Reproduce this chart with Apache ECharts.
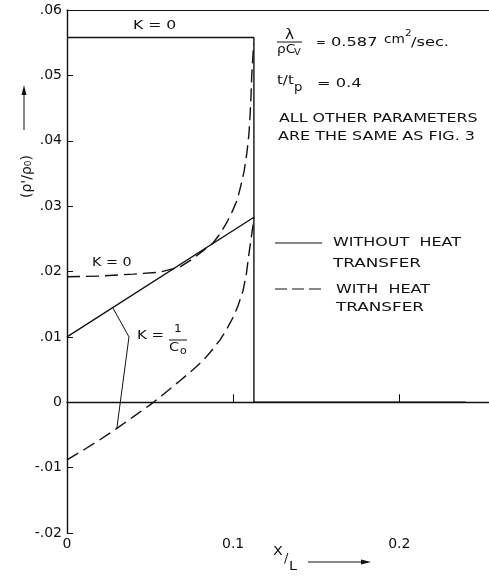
<!DOCTYPE html>
<html><head><meta charset="utf-8">
<script src="https://cdn.jsdelivr.net/npm/echarts@6/dist/echarts.min.js"></script>
<style>html,body{margin:0;padding:0;background:#fff}#c{width:489px;height:577px}</style>
</head><body><div id="c"></div>
<script>
// ---- data ----
const xTicks = [0, 0.1, 0.2];
const yTicks = [-0.02, -0.01, 0, 0.01, 0.02, 0.03, 0.04, 0.05, 0.06];
const yTickLabels = ['-.02', '-.01', '0', '.01', '.02', '.03', '.04', '.05', '.06'];
// without heat transfer, K = 1/C0 (solid)
const solidK1X = [0, 0.1125, 0.1125, 0.240];
const solidK1Y = [0.010, 0.0283, 0.0, 0.0];
// without heat transfer, K = 0 (solid)
const solidK0X = [0, 0.1125, 0.1125];
const solidK0Y = [0.0558, 0.0558, 0.0283];
// with heat transfer, K = 0 (dashed)
const dashK0X = [0, 0.02, 0.04, 0.056, 0.068, 0.076, 0.082, 0.088, 0.0925, 0.0964, 0.0995, 0.1024, 0.1045, 0.1065, 0.1082, 0.1095, 0.1102, 0.1108, 0.1112, 0.1118, 0.1123];
const dashK0Y = [0.0192, 0.0193, 0.0196, 0.0199, 0.0207, 0.0220, 0.0232, 0.0244, 0.0259, 0.0276, 0.0292, 0.0309, 0.0330, 0.0352, 0.0380, 0.0410, 0.0440, 0.0470, 0.0500, 0.0525, 0.0548];
// with heat transfer, K = 1/C0 (dashed)
const dashK1X = [0, 0.01, 0.02, 0.03, 0.04, 0.05, 0.056, 0.068, 0.076, 0.082, 0.088, 0.092, 0.096, 0.1, 0.103, 0.106, 0.108, 0.109, 0.110, 0.1109, 0.1118, 0.1125];
const dashK1Y = [-0.0088, -0.0073, -0.0057, -0.0040, -0.0022, -0.0004, 0.0008, 0.0033, 0.0050, 0.0064, 0.0082, 0.0095, 0.0111, 0.0130, 0.0148, 0.0171, 0.0197, 0.0217, 0.0236, 0.0252, 0.0268, 0.0283];
// leader lines of the "K = 1/C0" label
const leaderX = [0.0277, 0.0373, 0.0300];
const leaderY = [0.0144, 0.0100, -0.0040];

const zip = (xs, ys) => xs.map((x, i) => [x, ys[i]]);
const FONT = 'DejaVu Sans';
const black = '#111';

const chart = echarts.init(document.getElementById('c'), null, {renderer: 'canvas'});
const lineSeries = (data, dashed, w) => ({
  type: 'line', data, symbol: 'none', animation: false, silent: true,
  lineStyle: {color: black, width: w || 1.4, type: dashed ? [13, 6] : 'solid'}
});
// text helper: x = left edge, y = vertical centre, sx = horizontal stretch
const T = (text, x, y, size, sx) => ({
  type: 'text', x, y, scaleX: sx || 1,
  style: {text, font: size + 'px ' + FONT, fill: black, textAlign: 'left', textVerticalAlign: 'middle'}
});
chart.setOption({
  animation: false,
  grid: {left: 67, right: 0, top: 10, bottom: 44, containLabel: false},
  xAxis: [{
    type: 'value', min: 0, max: 0.254, interval: 0.1,
    axisLine: {show: true, lineStyle: {color: black, width: 1.4}},
    axisTick: {show: true, inside: true, length: 8, lineStyle: {color: black}},
    splitLine: {show: false},
    axisLabel: {color: black, fontFamily: FONT, fontSize: 14, margin: 4, showMaxLabel: false,
      formatter: v => xTicks.some(t => Math.abs(t - v) < 1e-9) ? (v === 0 ? '0' : String(Math.round(v * 10) / 10)) : ''}
  }, {
    type: 'value', position: 'top', min: 0, max: 0.254,
    axisLine: {show: true, lineStyle: {color: black, width: 1.2}},
    axisTick: {show: false}, axisLabel: {show: false}, splitLine: {show: false}
  }],
  yAxis: {
    type: 'value', min: -0.02, max: 0.06, interval: 0.01,
    axisLine: {show: true, lineStyle: {color: black, width: 1.4}},
    axisTick: {show: true, inside: true, length: 6, lineStyle: {color: black}},
    splitLine: {show: false},
    axisLabel: {color: black, fontFamily: FONT, fontSize: 14, margin: 5,
      formatter: v => { const i = yTicks.findIndex(t => Math.abs(t - v) < 1e-9); return i >= 0 ? yTickLabels[i] : ''; }}
  },
  series: [
    lineSeries(zip(solidK1X, solidK1Y), false),
    lineSeries(zip(solidK0X, solidK0Y), false),
    lineSeries(zip(dashK0X, dashK0Y), true),
    lineSeries(zip(dashK1X, dashK1Y), true),
    lineSeries(zip(leaderX, leaderY), false, 1)
  ],
  graphic: [
    // K = 0 labels
    T('K = 0', 133, 26, 13, 1.2),
    T('K = 0', 92, 263, 13, 1.1),
    // K = 1/C0
    T('K =', 137, 336, 13, 1.15),
    T('1', 174, 329, 11, 1.1),
    {type: 'line', shape: {x1: 169, y1: 340, x2: 187, y2: 340}, style: {stroke: black, lineWidth: 1}},
    T('C', 169, 348, 13, 1.1),
    T('o', 180, 351, 10, 1.1),
    // lambda / rho Cv
    T('λ', 285, 35, 14, 1.1),
    {type: 'line', shape: {x1: 277, y1: 42, x2: 302, y2: 42}, style: {stroke: black, lineWidth: 1}},
    T('ρC', 277, 50, 12.5, 1.1),
    T('V', 294, 53, 9, 1.1),
    T('=', 316, 43, 12.5, 0.95),
    T('0.587', 331, 43, 12.5, 1.3),
    T('cm', 384, 40, 12.5, 1.1),
    T('2', 405, 34, 9.5, 1.1),
    T('/sec.', 411, 43, 12.5, 1.3),
    // t/tp
    T('t/t', 277, 81, 13, 1.15),
    T('p', 294, 88, 12, 1.1),
    T('= 0.4', 317, 84, 12.5, 1.3),
    T('ALL OTHER PARAMETERS', 279, 119, 12, 1.32),
    T('ARE THE SAME AS FIG. 3', 278, 137, 12, 1.33),
    // legend
    {type: 'line', shape: {x1: 275, y1: 243, x2: 322, y2: 243}, style: {stroke: black, lineWidth: 1.2}},
    T('WITHOUT  HEAT', 333, 243, 12, 1.33),
    T('TRANSFER', 333, 264, 12, 1.4),
    {type: 'line', shape: {x1: 275, y1: 289, x2: 322, y2: 289}, style: {stroke: black, lineWidth: 1.2, lineDash: [12, 5]}},
    T('WITH  HEAT', 336, 290, 12, 1.33),
    T('TRANSFER', 336, 308, 12, 1.4),
    // y axis title (rotated) and arrow
    {type: 'text', x: 27, y: 198, rotation: Math.PI / 2,
      style: {text: "(ρ'/ρ₀)", font: '14px ' + FONT, fill: black, textAlign: 'left', textVerticalAlign: 'middle'}},
    {type: 'line', shape: {x1: 24, y1: 130, x2: 24, y2: 93}, style: {stroke: black, lineWidth: 1}},
    {type: 'polygon', shape: {points: [[24, 85], [21.5, 95], [26.5, 95]]}, style: {fill: black}},
    // x axis title and arrow
    T('X', 273, 552, 13, 1.1),
    T('/', 284, 559, 13, 1),
    T('L', 289, 567, 13, 1.1),
    {type: 'line', shape: {x1: 308, y1: 562, x2: 363, y2: 562}, style: {stroke: black, lineWidth: 1}},
    {type: 'polygon', shape: {points: [[371, 562], [361, 559.5], [361, 564.5]]}, style: {fill: black}}
  ]
});
</script></body></html>
